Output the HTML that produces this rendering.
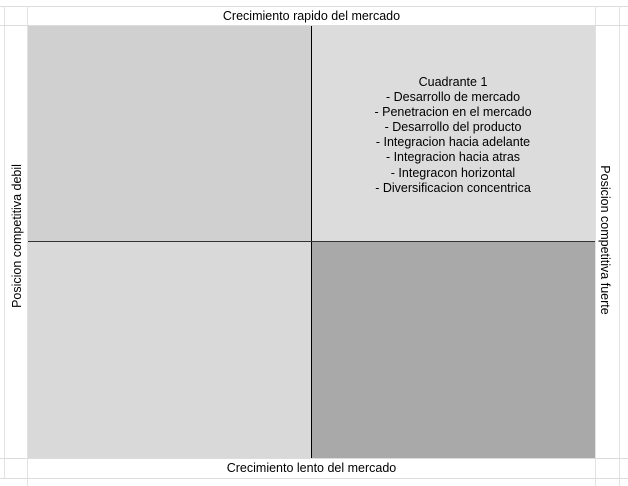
<!DOCTYPE html>
<html><head><meta charset="utf-8">
<style>
html,body{margin:0;padding:0;background:#fff;}
body{width:628px;height:486px;position:relative;overflow:hidden;font-family:"Liberation Sans",Arial,sans-serif;color:#000;}
.abs{position:absolute;}
.hl{position:absolute;height:1px;background:#dcdcdc;}
.vl{position:absolute;width:1px;background:#e2e2e2;}
.q{position:absolute;}
.lbl{position:absolute;font-size:12.5px;white-space:nowrap;}
</style></head><body>
<div class="hl" style="left:0;top:6px;width:628px;"></div>
<div class="hl" style="left:0;top:478px;width:628px;"></div>
<div class="vl" style="left:4px;top:6px;height:472px;"></div>
<div class="vl" style="left:27px;top:6px;height:480px;"></div>
<div class="vl" style="left:595px;top:6px;height:480px;"></div>
<div class="vl" style="left:619px;top:6px;height:480px;"></div>
<div class="hl" style="left:0;top:25px;width:628px;"></div>
<div class="hl" style="left:0;top:458px;width:628px;"></div>
<div class="q" style="left:28px;top:26px;width:283px;height:215px;background:#d0d0d0;"></div>
<div class="q" style="left:312px;top:26px;width:283px;height:215px;background:#dcdcdc;"></div>
<div class="q" style="left:28px;top:242px;width:283px;height:216px;background:#d9d9d9;"></div>
<div class="q" style="left:312px;top:242px;width:283px;height:216px;background:#a9a9a9;"></div>
<div class="abs" style="left:311px;top:26px;width:1px;height:432px;background:#000;"></div>
<div class="abs" style="left:28px;top:241px;width:567px;height:1px;background:#333;"></div>
<div class="lbl" style="left:28px;width:567px;top:9px;text-align:center;line-height:15px;">Crecimiento rapido del mercado</div>
<div class="lbl" style="left:28px;width:567px;top:461px;text-align:center;line-height:15px;">Crecimiento lento del mercado</div>
<div class="lbl" style="left:17px;top:236px;transform:translate(-50%,-50%) rotate(-90deg);">Posicion competitiva debil</div>
<div class="lbl" style="left:605px;top:240px;transform:translate(-50%,-50%) rotate(90deg);">Posicion competitiva fuerte</div>
<div class="lbl" style="left:353px;width:200px;top:75px;text-align:center;line-height:15.1px;">Cuadrante 1<br>- Desarrollo de mercado<br>- Penetracion en el mercado<br>- Desarrollo del producto<br>- Integracion hacia adelante<br>- Integracion hacia atras<br>- Integracon horizontal<br>- Diversificacion concentrica</div>
</body></html>
